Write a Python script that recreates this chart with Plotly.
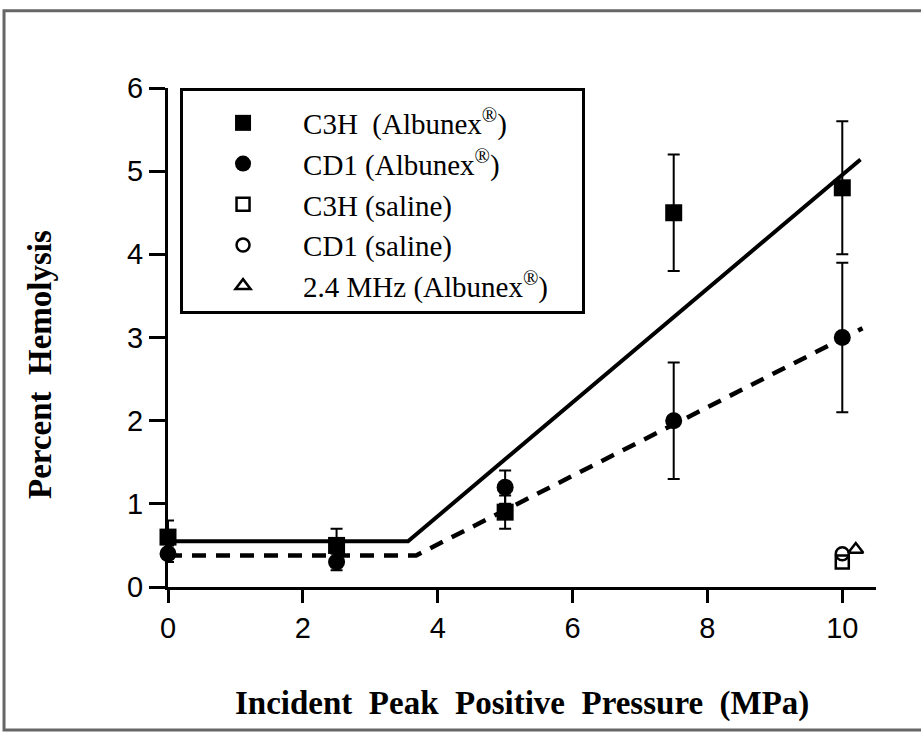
import plotly.graph_objects as go

# ---- data ----
pressure = [0, 2.5, 5, 7.5, 10]
c3h_alb = [0.6, 0.5, 0.9, 4.5, 4.8]
c3h_alb_err = [0.2, 0.2, 0.2, 0.7, 0.8]
cd1_alb = [0.4, 0.3, 1.2, 2.0, 3.0]
cd1_alb_err = [0.1, 0.1, 0.2, 0.7, 0.9]
saline_x = [10]
c3h_sal = [0.3]
cd1_sal = [0.4]
mhz_x = [10.2]
mhz_alb = [0.45]
fit_c3h_x = [0, 3.56, 10.27]
fit_c3h_y = [0.55, 0.55, 5.14]
fit_cd1_x = [0, 3.68, 10.3]
fit_cd1_y = [0.38, 0.38, 3.11]
x_ticks = [0, 2, 4, 6, 8, 10]
y_ticks = [0, 1, 2, 3, 4, 5, 6]

names = ["C3H \u00a0(Albunex<sup>®</sup>)", "CD1 (Albunex<sup>®</sup>)",
         "C3H (saline)", "CD1 (saline)",
         "2.4 MHz (Albunex<sup>®</sup>)\u00a0\u00a0\u00a0\u00a0"]

fig = go.Figure()
fig.add_trace(go.Scatter(x=fit_c3h_x, y=fit_c3h_y, mode="lines", showlegend=False,
                         line=dict(color="black", width=4), hoverinfo="skip"))
fig.add_trace(go.Scatter(x=fit_cd1_x, y=fit_cd1_y, mode="lines", showlegend=False,
                         line=dict(color="black", width=4.5, dash="14px,10px"), hoverinfo="skip"))

err_style = dict(type="data", thickness=2, width=6, color="black")
fig.add_trace(go.Scatter(x=pressure, y=c3h_alb, mode="markers", name=names[0],
                         marker=dict(symbol="square", size=17, color="black"),
                         error_y=dict(array=c3h_alb_err, **err_style), cliponaxis=False))
fig.add_trace(go.Scatter(x=pressure, y=cd1_alb, mode="markers", name=names[1],
                         marker=dict(symbol="circle", size=17, color="black"),
                         error_y=dict(array=cd1_alb_err, **err_style), cliponaxis=False))
fig.add_trace(go.Scatter(x=saline_x, y=c3h_sal, mode="markers", name=names[2],
                         marker=dict(symbol="square-open", size=13, color="black",
                                     line=dict(width=2.5)), cliponaxis=False))
fig.add_trace(go.Scatter(x=saline_x, y=cd1_sal, mode="markers", name=names[3],
                         marker=dict(symbol="circle-open", size=13, color="black",
                                     line=dict(width=2.5)), cliponaxis=False))
fig.add_trace(go.Scatter(x=mhz_x, y=mhz_alb, mode="markers", name=names[4],
                         marker=dict(symbol="triangle-up-open", size=13, color="black",
                                     line=dict(width=2.5)), cliponaxis=False))

tick_font = dict(family="Liberation Sans, Arial, sans-serif", size=29, color="black")
fig.update_xaxes(range=[0, 10.5], tickvals=x_ticks, ticktext=[str(v) for v in x_ticks],
                 showline=True, linecolor="black", linewidth=3, ticks="outside",
                 ticklen=13, tickwidth=2.5, tickcolor="black", showgrid=False,
                 zeroline=False, tickfont=tick_font)
fig.update_yaxes(range=[0, 6], tickvals=y_ticks, ticktext=[str(v) for v in y_ticks],
                 showline=True, linecolor="black", linewidth=3, ticks="outside",
                 ticklen=16, tickwidth=2.5, tickcolor="black", showgrid=False,
                 zeroline=False, tickfont=tick_font)

title_font = dict(family="Liberation Serif, Times New Roman, serif", size=33,
                  color="black", weight="bold")
fig.add_annotation(text="Incident \u00a0Peak \u00a0Positive \u00a0Pressure \u00a0(MPa)",
                   xref="paper", yref="paper", x=0.5, y=-0.2325, showarrow=False,
                   font=title_font, xanchor="center", yanchor="middle")
fig.add_annotation(text="Percent \u00a0Hemolysis", xref="paper", yref="paper",
                   x=-0.1808, y=0.447, showarrow=False, textangle=-90,
                   font=title_font, xanchor="center", yanchor="middle")

# outer frame
fig.add_shape(type="rect", xref="paper", yref="paper", x0=-0.2316, x1=1.08,
              y0=-0.2866, y1=1.155, line=dict(color="#666666", width=3), layer="below")

fig.update_layout(
    width=921, height=733,
    margin=dict(l=168, r=45, t=88, b=146),
    plot_bgcolor="white", paper_bgcolor="white",
    legend=dict(x=0.017, y=1.0, xanchor="left", yanchor="top",
                bgcolor="white", bordercolor="black", borderwidth=3,
                font=dict(family="Liberation Serif, Times New Roman, serif", size=29,
                          color="black"),
                title=dict(text="\u00a0", font=dict(size=5)),
                itemwidth=110, tracegroupgap=0),
)

fig.write_html("out.html")
